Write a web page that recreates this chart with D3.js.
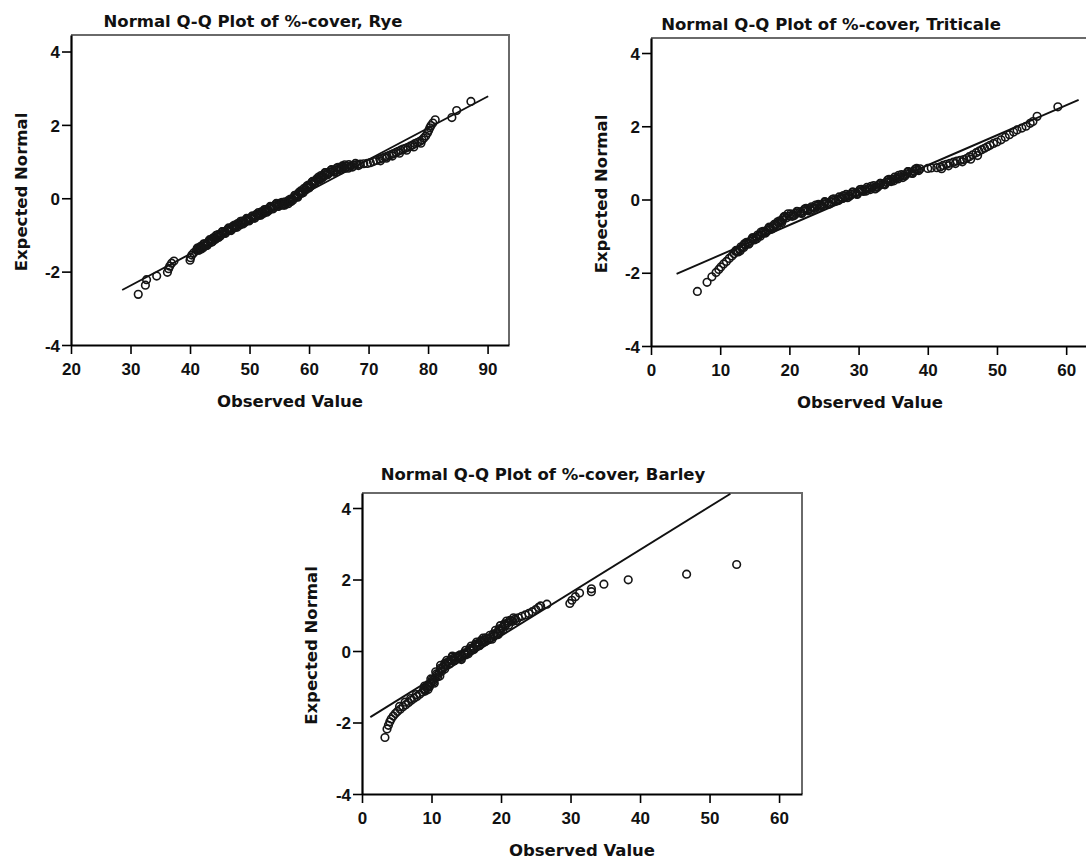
<!DOCTYPE html>
<html>
<head>
<meta charset="utf-8">
<script src="https://cdn.jsdelivr.net/npm/d3@7"></script>
<style>
    body { margin: 0; background: #fff; }
    .tick text { font-family: "Liberation Sans", Arial, sans-serif; font-weight: bold; font-size: 17px; fill: #111; }
    .chart-title, .axis-title { font-family: "DejaVu Sans", sans-serif; font-weight: bold; font-size: 16.5px; fill: #111; }
</style>
</head>
<body>
<div id="chart"></div>
<script>
// [observed %-cover, expected normal]
const ryePoints = [[31.3,-2.62],[32.5,-2.37],[32.7,-2.22],[34.4,-2.12],[36.2,-2.02],[36.4,-1.92],[36.6,-1.85],
    [36.9,-1.77],[37.3,-1.71],[40.0,-1.69],[40.1,-1.62],[40.3,-1.55],[40.6,-1.49],
    [41.1,-1.42],[41.2,-1.37],[41.4,-1.39],[41.5,-1.42],[41.7,-1.36],[41.8,-1.31],[42.0,-1.33],[42.2,-1.35],
    [42.4,-1.29],[42.5,-1.24],[42.7,-1.26],[42.9,-1.28],[43.0,-1.22],[43.2,-1.16],[43.4,-1.17],[43.6,-1.20],
    [43.7,-1.14],[43.9,-1.08],[44.1,-1.10],[44.3,-1.12],[44.5,-1.05],[44.7,-0.99],[44.9,-1.01],[45.1,-1.03],
    [45.3,-0.97],[45.5,-0.91],[45.8,-0.92],[46.0,-0.94],[46.2,-0.88],[46.4,-0.83],[46.6,-0.85],[46.8,-0.87],
    [47.0,-0.82],[47.2,-0.76],[47.4,-0.78],[47.6,-0.80],[47.8,-0.75],[48.0,-0.69],[48.2,-0.71],[48.4,-0.73],
    [48.6,-0.67],[48.8,-0.62],[49.0,-0.64],[49.2,-0.66],[49.4,-0.61],[49.6,-0.56],[49.8,-0.58],[50.0,-0.60],
    [50.2,-0.55],[50.4,-0.50],[50.6,-0.52],[50.8,-0.54],[51.0,-0.48],[51.2,-0.43],[51.4,-0.45],[51.6,-0.47],
    [51.8,-0.42],[52.0,-0.37],[52.2,-0.39],[52.4,-0.41],[52.6,-0.35],[52.8,-0.30],[53.0,-0.32],[53.2,-0.34],
    [53.4,-0.28],[53.6,-0.23],[53.8,-0.25],[54.0,-0.27],[54.2,-0.22],[54.4,-0.17],[54.6,-0.19],[54.8,-0.22],
    [55.0,-0.17],[55.2,-0.13],[55.4,-0.16],[55.6,-0.19],[55.8,-0.15],[56.0,-0.10],[56.3,-0.13],[56.5,-0.15],
    [56.7,-0.08],[56.9,-0.02],[57.1,-0.03],[57.3,-0.05],[57.5,0.02],[57.7,0.08],[57.9,0.06],[58.0,0.04],
    [58.2,0.10],[58.3,0.16],[58.5,0.14],[58.7,0.13],[58.9,0.19],[59.1,0.26],[59.3,0.24],[59.5,0.23],
    [59.7,0.29],[59.9,0.36],[60.1,0.34],[60.2,0.32],[60.4,0.38],[60.5,0.44],[60.7,0.42],[60.9,0.41],
    [61.1,0.47],[61.3,0.53],[61.5,0.51],[61.7,0.50],[61.9,0.56],[62.0,0.62],[62.2,0.60],[62.4,0.58],
    [62.6,0.64],[62.8,0.70],[63.0,0.68],[63.2,0.66],[63.5,0.71],[63.7,0.77],[64.0,0.74],[64.2,0.72],
    [64.5,0.77],[64.7,0.83],[65.0,0.80],[65.2,0.78],[65.4,0.83],[65.6,0.88],[65.8,0.85],[66.1,0.82],
    [66.4,0.87],[66.7,0.92],[67.0,0.88],[67.3,0.85],[67.6,0.90],[67.8,0.95],[68.1,0.92],[68.3,0.89],
    [68.6,0.93],[69.2,0.94],[69.8,0.95],[70.3,0.97],[70.8,1.00],[71.3,1.03],[71.9,1.07],[72.0,1.02],
    [72.3,1.09],[72.7,1.12],[73.0,1.09],[73.1,1.14],[73.5,1.17],[73.9,1.20],[74.0,1.15],[74.2,1.22],
    [74.6,1.25],[75.0,1.28],[75.2,1.23],[75.4,1.31],[75.8,1.34],[76.2,1.36],[76.4,1.31],[76.6,1.39],
    [77.0,1.42],[77.4,1.45],[77.6,1.40],[77.8,1.49],[78.2,1.52],[78.6,1.55],[78.8,1.50],[79.0,1.59],
    [79.3,1.64],[79.6,1.70],[79.9,1.78],[80.1,1.85],[80.3,1.92],[80.5,1.98],[80.8,2.05],[81.2,2.14],
    [84.0,2.20],[84.8,2.39],[87.2,2.64],
    [41.3,-1.35],[41.9,-1.38],[42.3,-1.24],[42.8,-1.29],[43.3,-1.13],[43.8,-1.18],[44.4,-1.01],[44.8,-1.07],
    [45.4,-0.91],[45.9,-0.96],[46.5,-0.81],[46.9,-0.88],[47.5,-0.73],[47.9,-0.79],[48.5,-0.63],[48.9,-0.70],
    [49.5,-0.55],[49.9,-0.62],[50.5,-0.48],[50.9,-0.54],[51.5,-0.39],[51.9,-0.46],[52.5,-0.31],[52.9,-0.38],
    [53.5,-0.22],[53.9,-0.29],[54.5,-0.14],[54.9,-0.22],[55.5,-0.11],[55.9,-0.19],[56.6,-0.05],[57.0,-0.09],
    [57.6,0.08],[58.1,0.03],[58.6,0.20],[59.0,0.15],[59.6,0.33],[60.0,0.28],[60.6,0.46],[61.0,0.41],
    [61.6,0.58],[62.1,0.54],[62.7,0.70],[63.1,0.64],[63.8,0.78],[64.3,0.71],[64.9,0.84],[65.3,0.77],
    [66.0,0.91],[66.6,0.82]];
const ryeLineX = [28.6, 90.1];
const ryeLineY = [-2.5, 2.78];

const triticalePoints = [[6.7,-2.51],[8.1,-2.26],[8.8,-2.11],[9.4,-1.99],[9.8,-1.91],[10.1,-1.84],[10.5,-1.76],
    [10.9,-1.69],[11.3,-1.61],[11.7,-1.54],[12.0,-1.48],[12.2,-1.41],[12.4,-1.42],[12.6,-1.43],[12.8,-1.36],
    [13.0,-1.29],[13.2,-1.30],[13.4,-1.31],[13.6,-1.24],[13.8,-1.17],[14.0,-1.18],[14.2,-1.20],[14.4,-1.13],
    [14.6,-1.07],[14.8,-1.08],[15.0,-1.10],[15.2,-1.03],[15.4,-0.97],[15.6,-0.98],[15.8,-1.00],[16.0,-0.93],
    [16.2,-0.87],[16.4,-0.88],[16.6,-0.90],[16.8,-0.84],[17.0,-0.78],[17.2,-0.79],[17.4,-0.81],[17.6,-0.74],
    [17.8,-0.68],[18.0,-0.69],[18.2,-0.71],[18.4,-0.64],[18.6,-0.58],[18.8,-0.60],[19.0,-0.56],[19.1,-0.52],
    [19.2,-0.48],[19.3,-0.46],[19.6,-0.50],[20.0,-0.45],[20.2,-0.39],[20.5,-0.41],[20.7,-0.44],[21.0,-0.38],
    [21.2,-0.33],[21.5,-0.35],[21.7,-0.37],[22.0,-0.31],[22.2,-0.26],[22.5,-0.28],[22.7,-0.31],[23.0,-0.25],
    [23.2,-0.20],[23.5,-0.22],[23.7,-0.24],[24.0,-0.18],[24.2,-0.13],[24.5,-0.15],[24.7,-0.18],[25.0,-0.12],
    [25.2,-0.07],[25.5,-0.09],[25.7,-0.12],[26.0,-0.06],[26.2,0.00],[26.5,-0.02],[26.7,-0.05],[27.0,0.01],
    [27.2,0.07],[27.5,0.05],[27.7,0.03],[28.0,0.08],[28.2,0.14],[28.5,0.11],[28.7,0.09],[29.0,0.14],
    [29.2,0.20],[29.5,0.17],[29.7,0.15],[30.0,0.21],[30.2,0.27],[30.5,0.24],[30.7,0.22],[31.0,0.27],
    [31.2,0.33],[31.5,0.30],[31.7,0.27],[32.0,0.32],[32.2,0.38],[32.5,0.35],[32.7,0.33],[33.0,0.38],
    [33.2,0.44],[33.5,0.42],[33.7,0.41],[34.0,0.47],[34.2,0.53],[34.5,0.51],[34.7,0.49],[35.0,0.55],
    [35.2,0.61],[35.5,0.58],[35.7,0.56],[36.0,0.62],[36.2,0.68],[36.5,0.66],[36.7,0.64],[37.0,0.70],
    [37.2,0.76],[37.5,0.74],[37.7,0.72],[38.0,0.77],[38.2,0.83],[38.5,0.81],[38.7,0.79],[38.9,0.84],
    [40.0,0.85],[40.5,0.86],[41.3,0.87],[41.8,0.89],[42.0,0.84],[42.2,0.93],[42.7,0.96],[43.0,0.92],
    [43.2,0.99],[43.7,1.02],[44.0,0.98],[44.2,1.05],[44.7,1.07],[45.0,1.03],[45.2,1.09],[45.6,1.12],
    [46.0,1.17],[46.2,1.10],[46.5,1.22],[47.0,1.28],[47.2,1.20],[47.4,1.32],[47.8,1.36],[48.2,1.40],
    [48.6,1.44],[49.0,1.48],[49.5,1.53],[50.0,1.57],[50.6,1.63],[51.2,1.70],[51.8,1.77],[52.4,1.84],
    [52.9,1.90],[53.6,1.95],[54.2,2.00],[54.8,2.08],[55.2,2.13],[55.8,2.27],[58.8,2.53],
    [12.3,-1.39],[12.9,-1.40],[13.5,-1.21],[14.1,-1.22],[14.7,-1.04],[15.3,-1.07],[15.9,-0.89],[16.5,-0.92],
    [17.1,-0.75],[17.7,-0.78],[18.3,-0.61],[18.9,-0.63],[19.8,-0.39],[20.4,-0.46],[21.1,-0.32],[21.8,-0.38],
    [22.4,-0.24],[23.1,-0.29],[23.8,-0.15],[24.4,-0.21],[25.1,-0.06],[25.8,-0.12],[26.4,0.02],[27.1,-0.03],
    [27.8,0.11],[28.4,0.05],[29.1,0.20],[29.8,0.14],[30.4,0.28],[31.1,0.23],[31.8,0.36],[32.4,0.29],
    [33.1,0.44],[33.8,0.40],[34.4,0.55],[35.1,0.51],[35.8,0.66],[36.4,0.60],[37.1,0.76],[37.8,0.71],
    [38.4,0.85]];
const triticaleLineX = [3.7, 61.8];
const triticaleLineY = [-2.03, 2.72];

const barleyPoints = [[3.3,-2.42],[3.6,-2.18],[3.8,-2.08],[4.0,-1.98],[4.2,-1.90],[4.5,-1.82],[4.8,-1.75],
    [5.1,-1.69],[5.4,-1.55],[5.5,-1.63],[5.9,-1.56],[6.2,-1.43],[6.3,-1.50],[6.7,-1.44],[7.0,-1.33],
    [7.1,-1.38],[7.5,-1.32],[7.8,-1.22],[7.9,-1.27],[8.3,-1.21],[8.7,-1.15],[9.1,-1.12],[9.0,-1.09],
    [8.9,-1.06],[9.3,-1.03],[9.7,-1.00],[9.6,-0.97],[9.5,-0.94],[9.9,-0.90],[10.3,-0.87],[10.2,-0.83],
    [10.1,-0.80],[10.5,-0.76],[10.9,-0.72],[10.8,-0.68],[10.7,-0.64],[11.1,-0.60],[11.5,-0.56],[11.4,-0.52],
    [11.3,-0.48],[11.7,-0.44],[12.1,-0.41],[12.0,-0.37],[11.9,-0.34],[12.4,-0.30],[12.9,-0.27],[12.8,-0.24],
    [13.0,-0.17],[13.2,-0.20],[13.4,-0.24],[13.6,-0.19],[13.8,-0.14],[14.0,-0.18],[14.2,-0.21],[14.4,-0.14],
    [14.9,-0.11],[14.8,-0.08],[14.7,-0.05],[15.2,-0.02],[15.7,0.01],[15.6,0.04],[15.5,0.07],[16.0,0.10],
    [16.5,0.13],[16.4,0.16],[16.3,0.19],[16.8,0.22],[17.3,0.25],[17.2,0.27],[17.1,0.29],[17.6,0.31],
    [17.8,0.37],[18.0,0.34],[18.3,0.32],[18.5,0.38],[19.0,0.42],[19.0,0.45],[18.9,0.48],[19.4,0.51],
    [19.9,0.55],[19.8,0.58],[19.7,0.62],[20.2,0.66],[20.6,0.70],[20.6,0.73],[20.5,0.76],[21.0,0.79],
    [21.3,0.86],[21.5,0.85],[21.7,0.83],[22.0,0.89],[22.5,0.93],[23.0,0.97],[23.5,1.01],[24.0,1.05],
    [24.5,1.10],[25.0,1.16],[25.4,1.22],[25.7,1.26],[26.6,1.31],[29.9,1.33],[30.2,1.42],[30.7,1.52],
    [31.3,1.62],[33.0,1.66],[33.0,1.74],[34.8,1.87],[38.3,1.99],[46.7,2.15],[53.9,2.42],
    [9.5,-1.08],[9.0,-0.98],[10.4,-0.90],[9.9,-0.78],[11.2,-0.70],[10.6,-0.58],[11.9,-0.50],[11.3,-0.40],
    [12.6,-0.36],[12.2,-0.26],[13.3,-0.27],[13.0,-0.14],[14.3,-0.24],[14.1,-0.11],[15.3,-0.08],[14.9,0.02],
    [16.1,0.04],[15.7,0.14],[16.9,0.15],[16.5,0.25],[17.7,0.26],[17.4,0.36],[18.7,0.33],[18.4,0.44],
    [19.6,0.46],[19.2,0.58],[20.3,0.60],[19.9,0.71],[21.1,0.72],[20.8,0.84],[22.2,0.85],[21.8,0.93]];
const barleyLineX = [1.2, 53.0];
const barleyLineY = [-1.85, 4.40];

const ryeXTicks = [20, 30, 40, 50, 60, 70, 80, 90];
const coverXTicks = [0, 10, 20, 30, 40, 50, 60];
const yTicks = [-4, -2, 0, 2, 4];

class QQPlot {
    constructor(svg, cfg) {
        this.svg = svg;
        this.cfg = cfg;
    }

    render() {
        const c = this.cfg;
        const x = d3.scaleLinear().domain(c.xDomain).range([c.left, c.left + c.width]);
        const y = d3.scaleLinear().domain(c.yDomain).range([c.top + c.height, c.top]);
        const g = this.svg.append('g');

        // frame (top / right are lighter)
        g.append('path')
            .attr('d', `M${c.left},${c.top}H${c.left + c.width}V${c.top + c.height}`)
            .attr('fill', 'none')
            .attr('stroke', '#6a6a6a')
            .attr('stroke-width', 2);

        const xAxis = g.append('g')
            .attr('transform', `translate(0,${c.top + c.height})`)
            .call(d3.axisBottom(x).tickValues(c.xTicks).tickFormat(d => String(d))
                .tickSize(9).tickSizeOuter(0).tickPadding(4));
        const yAxis = g.append('g')
            .attr('transform', `translate(${c.left},0)`)
            .call(d3.axisLeft(y).tickValues(yTicks).tickFormat(d => String(d))
                .tickSize(9).tickSizeOuter(0).tickPadding(2));

        [xAxis, yAxis].forEach(a => {
            a.select('.domain').attr('stroke', '#000').attr('stroke-width', 2.2);
            a.selectAll('.tick line').attr('stroke', '#000').attr('stroke-width', 1.6);
            a.attr('font-family', null).attr('font-size', null);
        });
        xAxis.selectAll('.tick text').attr('dy', null).attr('y', 30);
        yAxis.selectAll('.tick text').attr('dy', '0.36em');

        // fit line
        const line = d3.line().x(d => x(d[0])).y(d => y(d[1]));
        g.append('path')
            .datum(d3.zip(c.lineX, c.lineY))
            .attr('d', line)
            .attr('fill', 'none')
            .attr('stroke', '#111')
            .attr('stroke-width', 1.9);

        // points
        g.append('g').selectAll('circle')
            .data(c.points)
            .enter()
            .append('circle')
            .attr('cx', d => x(d[0]))
            .attr('cy', d => y(d[1]))
            .attr('r', 3.8)
            .attr('fill', 'none')
            .attr('stroke', '#151515')
            .attr('stroke-width', 1.6);

        g.append('text')
            .attr('class', 'chart-title')
            .attr('x', c.titleX)
            .attr('y', c.titleY)
            .attr('text-anchor', 'middle')
            .text(c.title);

        g.append('text')
            .attr('class', 'axis-title')
            .attr('transform', `translate(${c.yLabelX},${c.top + c.height / 2 + 2}) rotate(-90)`)
            .attr('text-anchor', 'middle')
            .text('Expected Normal');

        g.append('text')
            .attr('class', 'axis-title')
            .attr('x', c.left + c.width / 2)
            .attr('y', c.top + c.height + 62)
            .attr('text-anchor', 'middle')
            .text('Observed Value');
    }
}

const svg = d3.select('#chart').append('svg')
    .attr('width', 1086)
    .attr('height', 861);

const panels = [
    {
        title: 'Normal Q-Q Plot of %-cover, Rye', points: ryePoints,
        lineX: ryeLineX, lineY: ryeLineY, xTicks: ryeXTicks, xDomain: [20, 93.6], yDomain: [-4, 4.45],
        left: 71, top: 35, width: 438, height: 310, titleX: 253, titleY: 27, yLabelX: 27
    },
    {
        title: 'Normal Q-Q Plot of %-cover, Triticale', points: triticalePoints,
        lineX: triticaleLineX, lineY: triticaleLineY, xTicks: coverXTicks, xDomain: [0, 63.3], yDomain: [-4, 4.41],
        left: 651, top: 38, width: 438, height: 308, titleX: 831, titleY: 30, yLabelX: 607
    },
    {
        title: 'Normal Q-Q Plot of %-cover, Barley', points: barleyPoints,
        lineX: barleyLineX, lineY: barleyLineY, xTicks: coverXTicks, xDomain: [0, 63.3], yDomain: [-4, 4.42],
        left: 362, top: 493, width: 440, height: 301, titleX: 543, titleY: 480, yLabelX: 317
    }
];

panels.forEach(p => new QQPlot(svg, p).render());
</script>
</body>
</html>
